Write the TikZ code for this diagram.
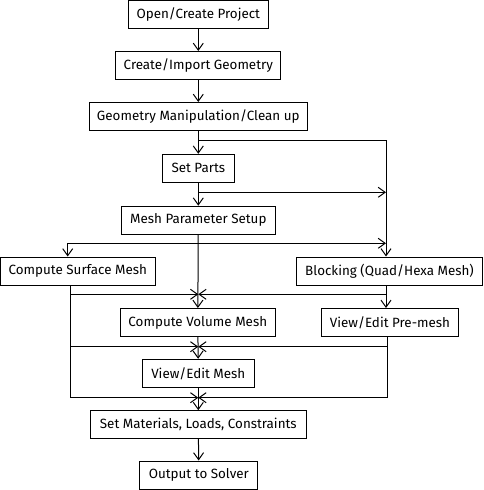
\documentclass[tikz,border=0pt]{standalone}
\usepackage{fontspec}
\setmainfont{Fira Sans}
\usetikzlibrary{arrows.meta}
\begin{document}
\begin{tikzpicture}[x=1pt,y=-1pt,
  box/.style={draw=black,line width=1pt,inner sep=0pt,minimum height=28pt,font=\fontsize{13.4}{15}\selectfont,anchor=center},
  flow/.style={line width=1pt,-{Straight Barb[length=7pt,width=10pt,line width=1pt]}},
  ln/.style={line width=1pt}]
\useasboundingbox (0,0) rectangle (483,490);
\node[box,minimum width=140pt] (open) at (198.3,14.4) {Open/Create Project};
\node[box,minimum width=165pt] (create) at (198.3,65.5) {Create/Import Geometry};
\node[box,minimum width=218pt] (geom) at (198.3,116.5) {Geometry Manipulation/Clean up};
\node[box,minimum width=72pt] (parts) at (198.3,168.3) {Set Parts};
\node[box,minimum width=154pt] (mesh) at (198.3,220.2) {Mesh Parameter Setup};
\node[box,minimum width=155pt] (surf) at (77.8,271) {Compute Surface Mesh};
\node[box,minimum width=186.4pt] (block) at (389.5,271) {Blocking (Quad/Hexa Mesh)};
\node[box,minimum width=155pt] (vol) at (197.8,322.5) {Compute Volume Mesh};
\node[box,minimum width=137.4pt] (pre) at (390,322.5) {View/Edit Pre-mesh};
\node[box,minimum width=112pt] (view) at (198.3,373.3) {View/Edit Mesh};
\node[box,minimum width=216pt] (mat) at (198.3,424.7) {Set Materials, Loads, Constraints};
\node[box,minimum width=117.7pt] (out) at (198.8,475) {Output to Solver};
% junction coordinates
\coordinate (r1) at (386,140);
\coordinate (g1) at (198.3,140);
\coordinate (p1) at (198.3,192.3);
\coordinate (r2) at (386,192.3);
\coordinate (m1) at (198.3,243.3);
\coordinate (l1) at (67.7,243.3);
\coordinate (r3) at (386,243.3);
\coordinate (sl) at (70,285.3);
\coordinate (sl1) at (70,294.3);
\coordinate (sl2) at (70,346.7);
\coordinate (sl3) at (70,397.7);
\coordinate (c1) at (198.3,294.3);
\coordinate (c2) at (198.3,346.7);
\coordinate (c3) at (198.3,397.7);
\coordinate (br) at (386,285.3);
\coordinate (br1) at (386,294.3);
\coordinate (pr) at (387.3,336.7);
\coordinate (pr2) at (387.3,346.7);
\coordinate (pr3) at (387.3,397.7);
% main trunk
\draw[flow] (open) -- (create);
\draw[flow] (create) -- (geom);
\draw[flow] (geom) -- (parts);
\draw[flow] (parts) -- (mesh);
\draw[flow] (mesh) -- (vol);
\draw[flow] (vol) -- (view);
\draw[flow] (view) -- (mat);
\draw[flow] (mat) -- (out);
% right branch
\draw[flow] (g1) -- (r1) -- (block.north -| r1);
\draw[flow] (p1) -- (r2);
\draw[flow] (m1) -- (r3);
\draw[flow] (m1) -- (l1) -- (surf.north -| l1);
% surface mesh outputs
\draw[ln] (sl) -- (sl3);
\draw[flow] (sl1) -- (c1);
\draw[flow] (sl2) -- (c2);
\draw[flow] (sl3) -- (c3);
% blocking outputs
\draw[flow] (br) -- (pre.north -| br);
\draw[flow] (br1) -- (c1);
\draw[ln] (pr) -- (pr3);
\draw[flow] (pr2) -- (c2);
\draw[flow] (pr3) -- (c3);
\end{tikzpicture}
\end{document}
